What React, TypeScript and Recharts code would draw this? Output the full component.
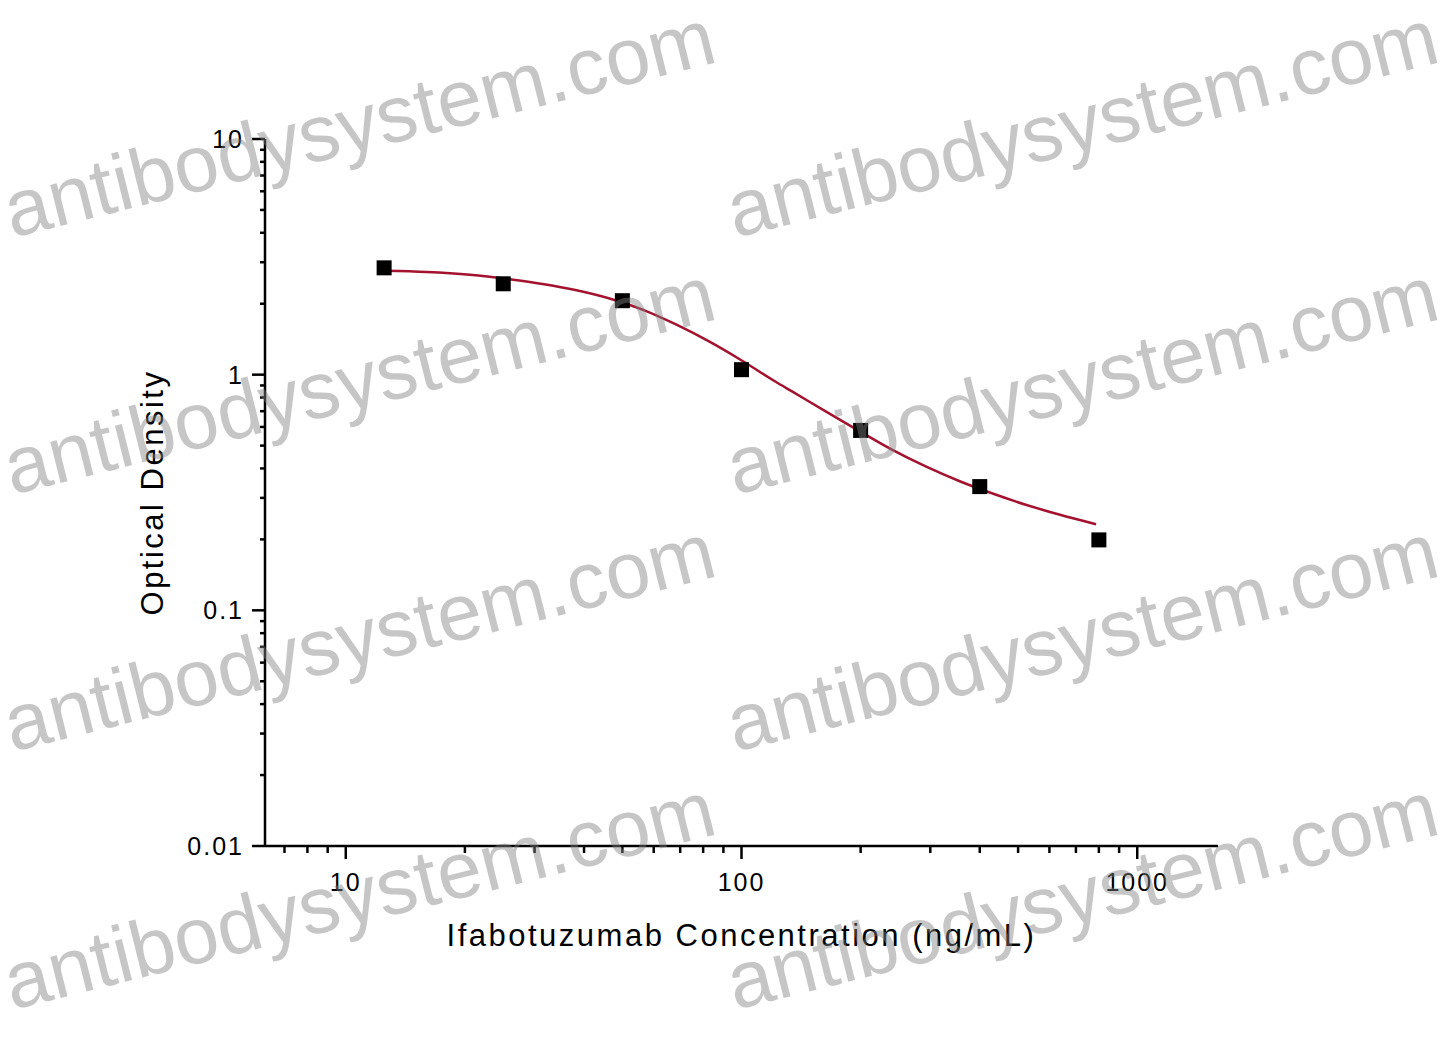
import { ComposedChart, Line, Scatter, XAxis, YAxis } from "recharts";

// measured standards (ng/mL -> OD)
const concentrations = [12.5, 25, 50, 100, 200, 400, 800];
const odValues = [2.84, 2.43, 2.06, 1.05, 0.58, 0.335, 0.199];

// fitted curve
const fitConc = [
  12.55, 16, 20.6, 25.9, 31.4, 38.3, 46.4, 56.2, 68.5, 83, 100.6, 122, 134.5,
  164, 199, 240, 293, 356, 431, 525, 635, 787,
];
const fitOd = [
  2.761, 2.729, 2.655, 2.541, 2.427, 2.28, 2.104, 1.888, 1.629, 1.38, 1.143,
  0.933, 0.847, 0.695, 0.575, 0.481, 0.407, 0.353, 0.313, 0.28, 0.255, 0.232,
];

const xTicks = [
  7, 8, 9, 10, 20, 30, 40, 50, 60, 70, 80, 90, 100, 200, 300, 400, 500, 600,
  700, 800, 900, 1000,
];
const xMajor = [10, 100, 1000];
const yTicks = [
  0.01, 0.02, 0.03, 0.04, 0.05, 0.06, 0.07, 0.08, 0.09, 0.1, 0.2, 0.3, 0.4,
  0.5, 0.6, 0.7, 0.8, 0.9, 1, 2, 3, 4, 5, 6, 7, 8, 9, 10,
];
const yMajor = [0.01, 0.1, 1, 10];

const X_TITLE = "Ifabotuzumab Concentration (ng/mL)";
const Y_TITLE = "Optical Density";
const WATERMARK = "antibodysystem.com";
const watermarkRows = [238, 495, 752, 1010];
const watermarkCols = [12, 735];

const W = 1440;
const H = 1046;
const PLOT_LEFT = 265;
const PLOT_RIGHT = 1218;
const PLOT_TOP = 139;
const PLOT_BOTTOM = 846;
const Y_AXIS_W = 100;
const X_AXIS_H = 60;

const FONT = "'Liberation Sans', Arial, sans-serif";
const CURVE_COLOR = "#a3122e";

const points = concentrations.map((x, i) => ({ x, y: odValues[i] }));
const curve = fitConc.map((x, i) => ({ x, y: fitOd[i] }));

function XTick(props: any) {
  const { x, y, payload } = props;
  const major = xMajor.includes(payload.value);
  return (
    <g>
      <line
        x1={x}
        y1={y}
        x2={x}
        y2={y + (major ? 13 : 7)}
        stroke="#000"
        strokeWidth={2.5}
      />
      {major && (
        <text
          x={x}
          y={y + 45}
          textAnchor="middle"
          fontFamily={FONT}
          fontSize={25}
          letterSpacing={2}
          fill="#000"
        >
          {payload.value}
        </text>
      )}
    </g>
  );
}

function YTick(props: any) {
  const { x, y, payload } = props;
  const major = yMajor.includes(payload.value);
  return (
    <g>
      <line
        x1={x}
        y1={y}
        x2={x - (major ? 13 : 5)}
        y2={y}
        stroke="#000"
        strokeWidth={2.5}
      />
      {major && (
        <text
          x={x - 21}
          y={y + 9}
          textAnchor="end"
          fontFamily={FONT}
          fontSize={25}
          letterSpacing={2}
          fill="#000"
        >
          {payload.value}
        </text>
      )}
    </g>
  );
}

function SquareDot(props: any) {
  const { cx, cy } = props;
  if (cx == null || cy == null) return null;
  return <rect x={cx - 7.5} y={cy - 7.5} width={15} height={15} fill="#000" />;
}

export default function App() {
  return (
    <div
      style={{
        position: "absolute",
        left: 0,
        top: 0,
        width: W,
        height: H,
        background: "#fff",
      }}
    >
      <ComposedChart
        width={W}
        height={H}
        margin={{
          top: PLOT_TOP,
          right: W - PLOT_RIGHT,
          bottom: H - PLOT_BOTTOM - X_AXIS_H,
          left: PLOT_LEFT - Y_AXIS_W,
        }}
      >
        <XAxis
          type="number"
          dataKey="x"
          scale="log"
          domain={[6.25, 1600]}
          allowDataOverflow
          ticks={xTicks}
          interval={0}
          tickSize={0}
          tickMargin={0}
          tickLine={false}
          tick={<XTick />}
          height={X_AXIS_H}
          axisLine={{ stroke: "#000", strokeWidth: 2.5 }}
        />
        <YAxis
          type="number"
          dataKey="y"
          scale="log"
          domain={[0.01, 10]}
          allowDataOverflow
          ticks={yTicks}
          interval={0}
          tickSize={0}
          tickMargin={0}
          tickLine={false}
          tick={<YTick />}
          width={Y_AXIS_W}
          axisLine={{ stroke: "#000", strokeWidth: 2.5 }}
        />
        <Line
          data={curve}
          dataKey="y"
          type="monotone"
          stroke={CURVE_COLOR}
          strokeWidth={2.5}
          dot={false}
          activeDot={false}
          isAnimationActive={false}
        />
        <Scatter
          data={points}
          dataKey="y"
          shape={<SquareDot />}
          isAnimationActive={false}
        />
      </ComposedChart>
      <svg
        width={W}
        height={H}
        style={{ position: "absolute", left: 0, top: 0, pointerEvents: "none" }}
      >
        <text
          x={(PLOT_LEFT + PLOT_RIGHT) / 2}
          y={PLOT_BOTTOM + 100}
          textAnchor="middle"
          fontFamily={FONT}
          fontSize={31}
          letterSpacing={2.5}
          fill="#000"
        >
          {X_TITLE}
        </text>
        <text
          x={163}
          y={(PLOT_TOP + PLOT_BOTTOM) / 2}
          transform={`rotate(-90 163 ${(PLOT_TOP + PLOT_BOTTOM) / 2})`}
          textAnchor="middle"
          fontFamily={FONT}
          fontSize={31}
          letterSpacing={2.5}
          fill="#000"
        >
          {Y_TITLE}
        </text>
        {watermarkRows.map((wy) =>
          watermarkCols.map((wx) => (
            <text
              key={`${wx}-${wy}`}
              x={wx}
              y={wy}
              transform={`rotate(-14 ${wx} ${wy})`}
              fontFamily={FONT}
              fontSize={80}
              fill="rgba(128,128,128,0.45)"
            >
              {WATERMARK}
            </text>
          ))
        )}
      </svg>
    </div>
  );
}
